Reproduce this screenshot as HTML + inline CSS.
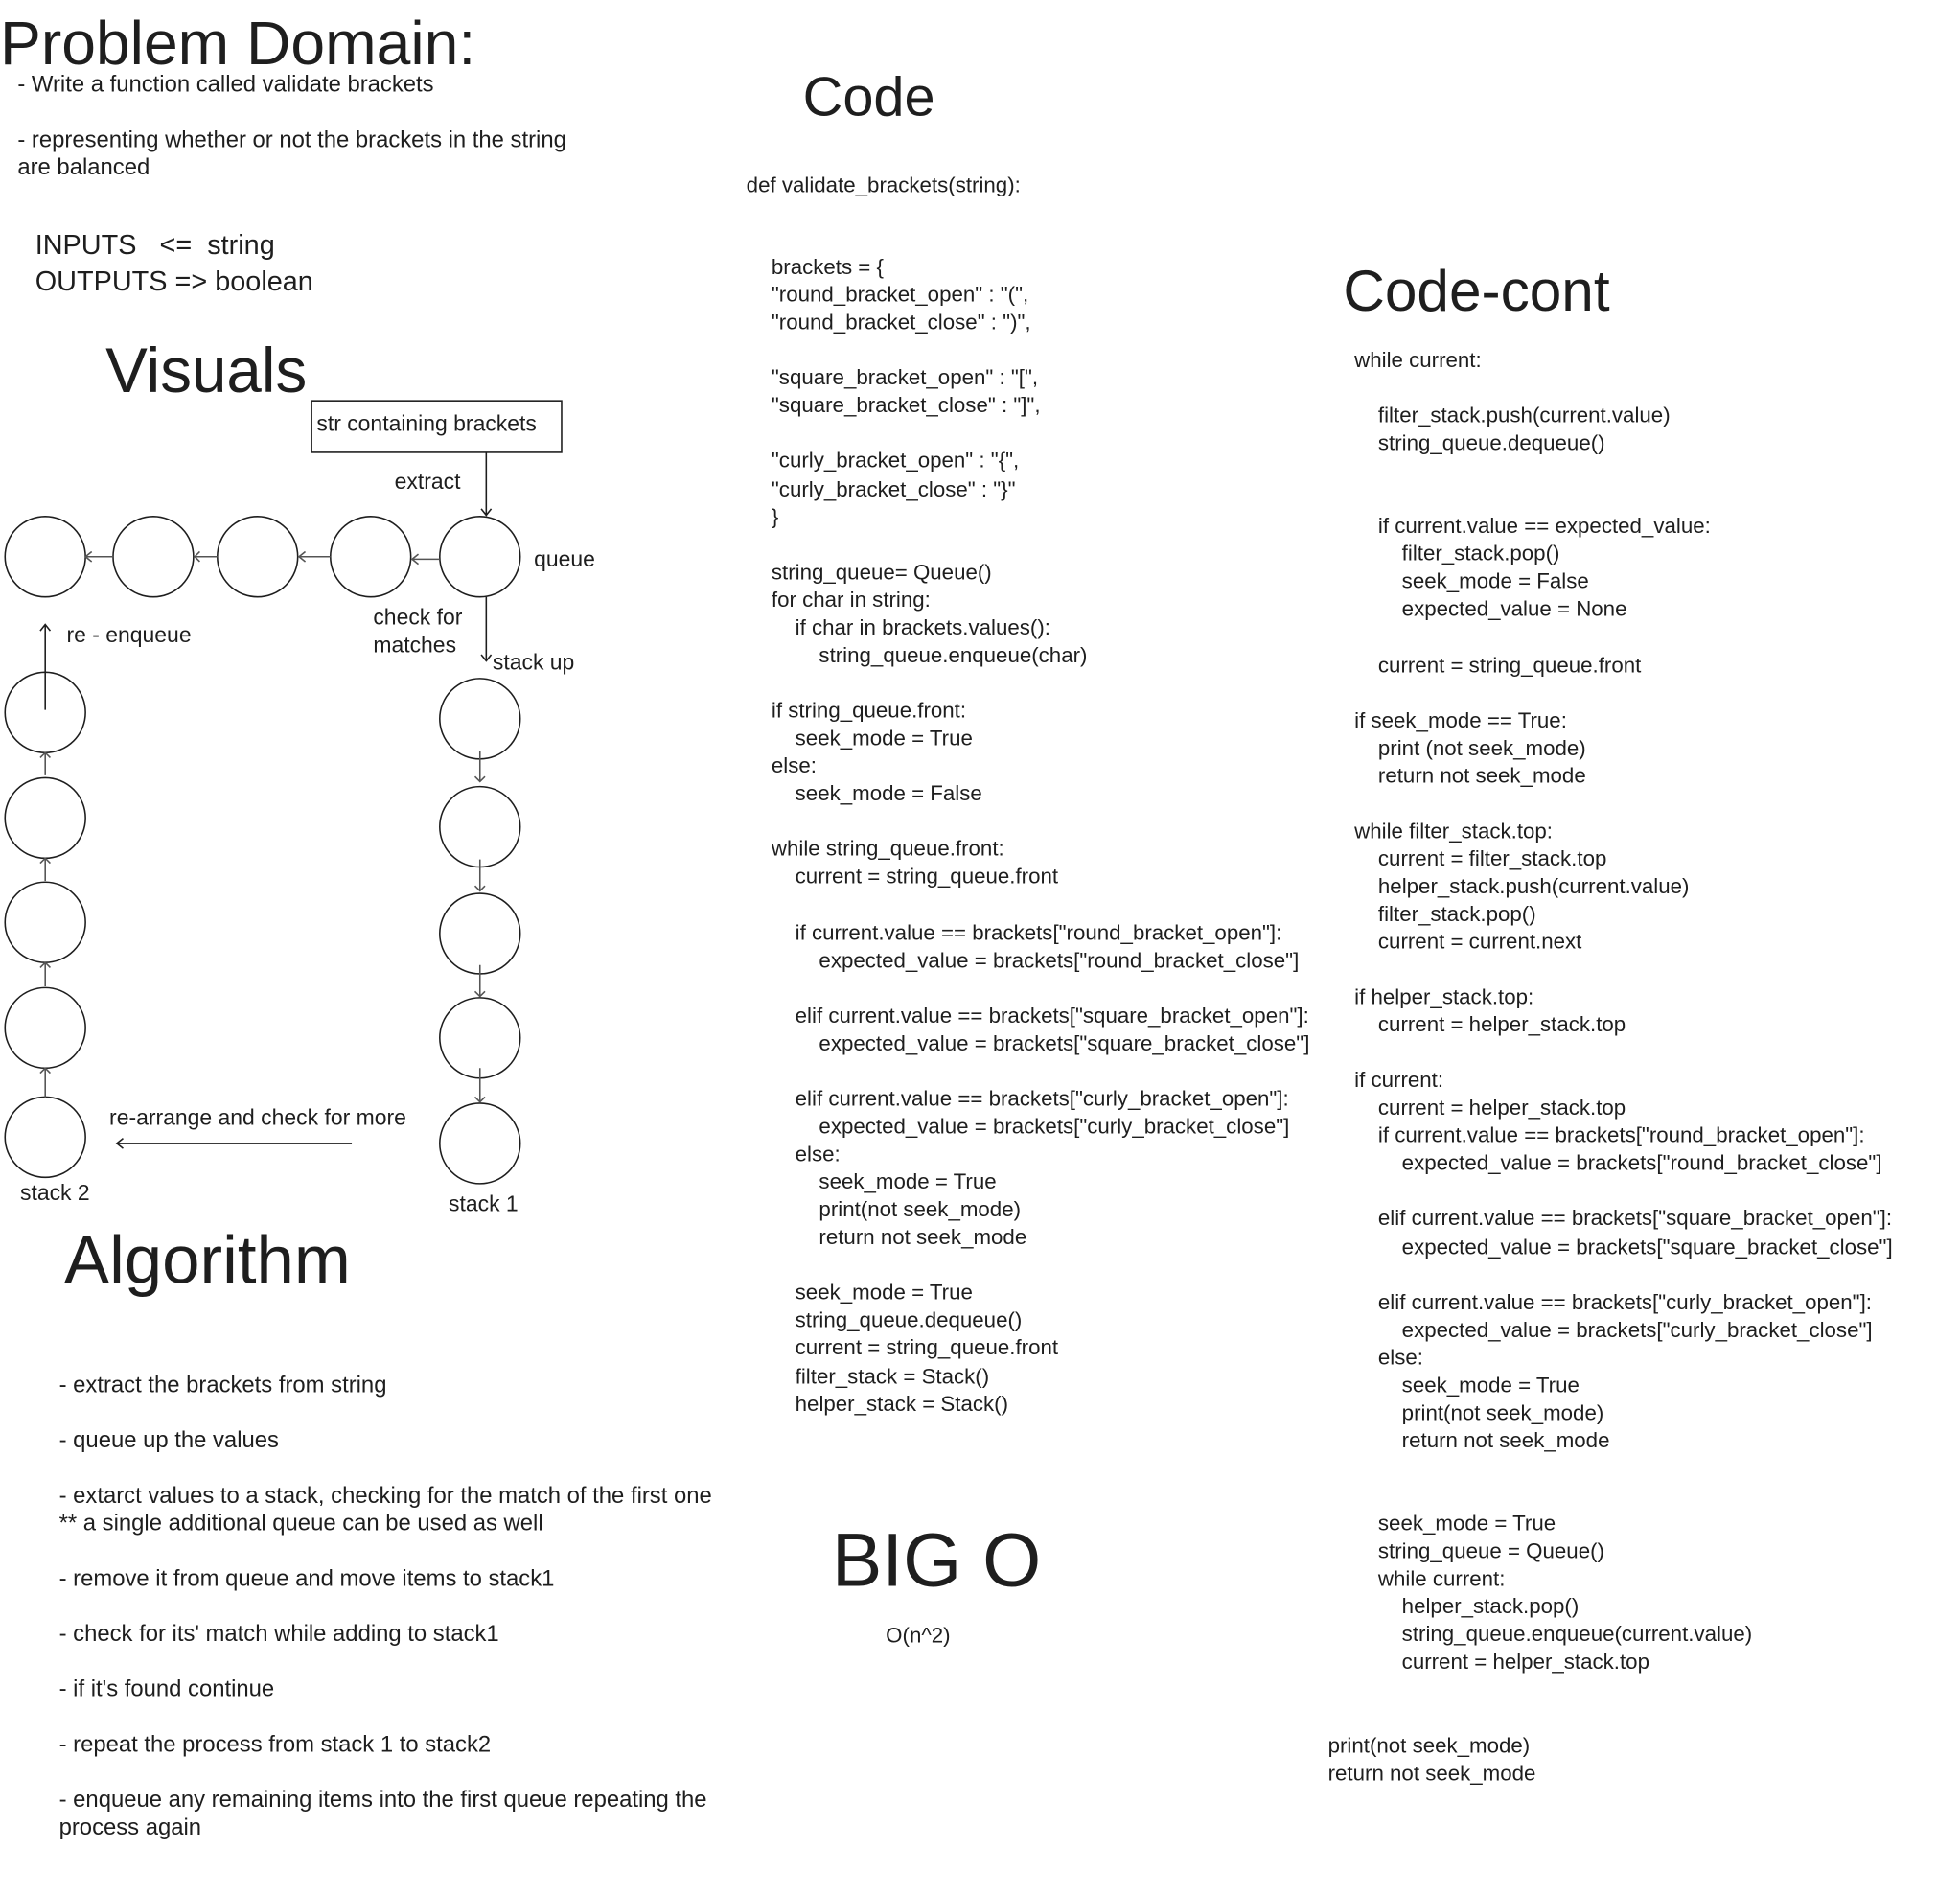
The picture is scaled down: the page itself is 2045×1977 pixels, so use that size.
<!DOCTYPE html>
<html><head><meta charset="utf-8"><style>
html,body{margin:0;padding:0;background:#fff;}
body{width:2045px;height:1976px;overflow:hidden;position:relative;}
#s{position:absolute;left:0;top:0;width:1560px;height:1508px;transform:scale(1.3109);transform-origin:0 0;font-family:"Liberation Sans",sans-serif;color:#1e1e1e;}
.t{position:absolute;white-space:pre;font-size:17.5px;line-height:22px;}
.a{font-size:18.2px;}
.h{position:absolute;white-space:pre;font-size:50px;line-height:56px;}
pre{margin:0;position:absolute;font-family:"Liberation Sans",sans-serif;font-size:17px;color:#1e1e1e;}
svg{position:absolute;left:0;top:0;}
</style></head><body><div id="s">
<div class="h" style="left:0;top:7px;font-size:49px;">Problem Domain:</div>
<div class="t a" style="left:14px;top:56px;">- Write a function called validate brackets</div>
<div class="t a" style="left:14px;top:100px;">- representing whether or not the brackets in the string
are balanced</div>
<div class="t" style="left:28px;top:180px;font-size:22px;line-height:29px;">INPUTS   &lt;=  string
OUTPUTS =&gt; boolean</div>
<div class="h" style="left:84px;top:267px;">Visuals</div>
<div class="t" style="left:252px;top:326px;">str containing brackets</div>
<div class="t" style="left:314px;top:372px;">extract</div>
<div class="t" style="left:425px;top:434px;">queue</div>
<div class="t" style="left:297px;top:480px;">check for
matches</div>
<div class="t" style="left:392px;top:516px;">stack up</div>
<div class="t" style="left:53px;top:494px;">re - enqueue</div>
<div class="t" style="left:87px;top:878px;">re-arrange and check for more</div>
<div class="t" style="left:16px;top:938px;">stack 2</div>
<div class="t" style="left:357px;top:947px;">stack 1</div>
<div class="h" style="left:51px;top:975px;font-size:54px;">Algorithm</div>
<div class="t a" style="left:47px;top:1091px;">- extract the brackets from string

- queue up the values

- extarct values to a stack, checking for the match of the first one
** a single additional queue can be used as well

- remove it from queue and move items to stack1

- check for its' match while adding to stack1

- if it's found continue

- repeat the process from stack 1 to stack2

- enqueue any remaining items into the first queue repeating the
process again</div>
<div class="h" style="left:639px;top:50px;font-size:44px;">Code</div>
<div class="t" style="left:594px;top:137px;font-size:17px;">def validate_brackets(string):</div>
<pre style="left:614px;top:202px;line-height:22.07px;">brackets = {
"round_bracket_open" : "(",
"round_bracket_close" : ")",

"square_bracket_open" : "[",
"square_bracket_close" : "]",

"curly_bracket_open" : "{",
"curly_bracket_close" : "}"
}

string_queue= Queue()
for char in string:
    if char in brackets.values():
        string_queue.enqueue(char)

if string_queue.front:
    seek_mode = True
else:
    seek_mode = False

while string_queue.front:
    current = string_queue.front

    if current.value == brackets["round_bracket_open"]:
        expected_value = brackets["round_bracket_close"]

    elif current.value == brackets["square_bracket_open"]:
        expected_value = brackets["square_bracket_close"]

    elif current.value == brackets["curly_bracket_open"]:
        expected_value = brackets["curly_bracket_close"]
    else:
        seek_mode = True
        print(not seek_mode)
        return not seek_mode

    seek_mode = True
    string_queue.dequeue()
    current = string_queue.front
    filter_stack = Stack()
    helper_stack = Stack()</pre>
<div class="h" style="left:1069px;top:203px;font-size:46px;">Code-cont</div>
<pre style="left:1078px;top:276px;line-height:22.05px;">while current:

    filter_stack.push(current.value)
    string_queue.dequeue()


    if current.value == expected_value:
        filter_stack.pop()
        seek_mode = False
        expected_value = None

    current = string_queue.front

if seek_mode == True:
    print (not seek_mode)
    return not seek_mode

while filter_stack.top:
    current = filter_stack.top
    helper_stack.push(current.value)
    filter_stack.pop()
    current = current.next

if helper_stack.top:
    current = helper_stack.top

if current:
    current = helper_stack.top
    if current.value == brackets["round_bracket_open"]:
        expected_value = brackets["round_bracket_close"]

    elif current.value == brackets["square_bracket_open"]:
        expected_value = brackets["square_bracket_close"]

    elif current.value == brackets["curly_bracket_open"]:
        expected_value = brackets["curly_bracket_close"]
    else:
        seek_mode = True
        print(not seek_mode)
        return not seek_mode


    seek_mode = True
    string_queue = Queue()
    while current:
        helper_stack.pop()
        string_queue.enqueue(current.value)
        current = helper_stack.top</pre>
<div class="t" style="left:1057px;top:1379px;font-size:17px;">print(not seek_mode)
return not seek_mode</div>
<div class="h" style="left:662px;top:1210px;font-size:60px;line-height:64px;">BIG O</div>
<div class="t" style="left:705px;top:1291px;font-size:17px;">O(n^2)</div>
<svg width="1560" height="1508" viewBox="0 0 1560 1508" fill="none" stroke="#1e1e1e" stroke-width="1.2">
<rect x="248" y="319" width="199" height="41"/>
<g>
<circle cx="36" cy="443" r="32"/><circle cx="122" cy="443" r="32"/><circle cx="205" cy="443" r="32"/><circle cx="295" cy="443" r="32"/><circle cx="382" cy="443" r="32"/>
<circle cx="382" cy="572" r="32"/><circle cx="382" cy="658" r="32"/><circle cx="382" cy="743" r="32"/><circle cx="382" cy="826" r="32"/><circle cx="382" cy="910" r="32"/>
<circle cx="36" cy="567" r="32"/><circle cx="36" cy="651" r="32"/><circle cx="36" cy="734" r="32"/><circle cx="36" cy="818" r="32"/><circle cx="36" cy="905" r="32"/>
</g>
<path d="M387 360 V410 M383 405 L387 410 L391 405"/>
<path d="M387 475 V526 M383 521 L387 526 L391 521"/>
<path d="M36 565 V497 M32 502 L36 497 L40 502"/>
<path d="M280 910 H93 M98 906 L93 910 L98 914"/>
<g stroke="#555">
<path d="M350 445 H328 M333 441 L328 445 L333 449"/>
<path d="M263 443 H238 M243 439 L238 443 L243 447"/>
<path d="M173 443 H155 M159 439 L155 443 L159 447"/>
<path d="M90 443 H68 M73 439 L68 443 L73 447"/>
<path d="M382 598 V622 M378 618 L382 622 L386 618"/>
<path d="M382 684 V709 M378 705 L382 709 L386 705"/>
<path d="M382 768 V793 M378 789 L382 793 L386 789"/>
<path d="M382 850 V877 M378 873 L382 877 L386 873"/>
<path d="M36 599 V617 M32 603 L36 599 L40 603"/>
<path d="M36 683 V701 M32 687 L36 683 L40 687"/>
<path d="M36 766 V785 M32 770 L36 766 L40 770"/>
<path d="M36 850 V874 M32 854 L36 850 L40 854"/>
</g>
</svg>
</div></body></html>
